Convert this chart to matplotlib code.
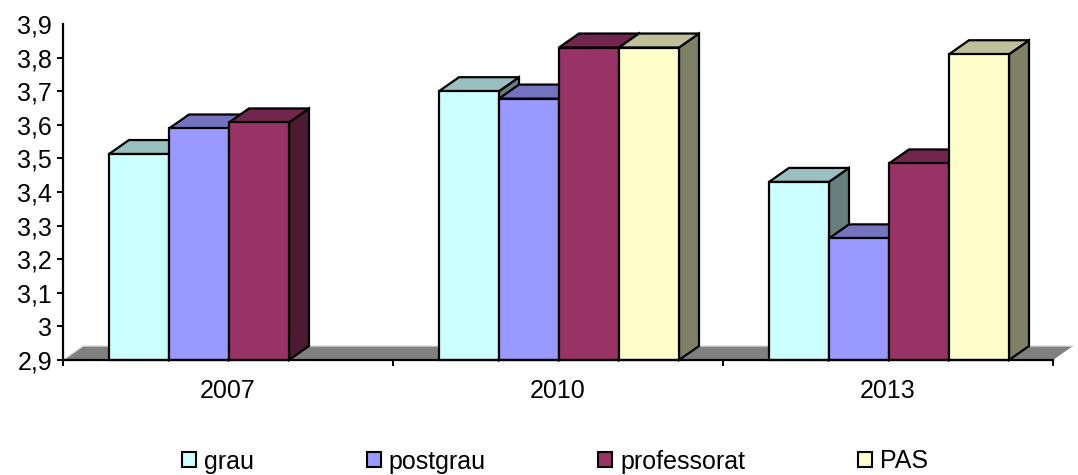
import matplotlib
matplotlib.use('Agg')
import matplotlib.pyplot as plt
from matplotlib.patches import Polygon, Patch

plt.rcParams['font.family'] = ['Liberation Sans', 'DejaVu Sans']
plt.rcParams['font.size'] = 18

years = ['2007', '2010', '2013']
series_names = ['grau', 'postgrau', 'professorat', 'PAS']
grau = [3.513, 3.70, 3.43]
postgrau = [3.589, 3.678, 3.262]
professorat = [3.607, 3.83, 3.485]
pas = [None, 3.83, 3.81]
y_ticks = [2.9, 3.0, 3.1, 3.2, 3.3, 3.4, 3.5, 3.6, 3.7, 3.8, 3.9]
y_labels = ['2,9', '3', '3,1', '3,2', '3,3', '3,4', '3,5', '3,6', '3,7', '3,8', '3,9']

front = ['#CCFFFF', '#9999FF', '#993366', '#FFFFCC']
top = ['#99BFBF', '#7373BF', '#73264D', '#BFBF99']
side = ['#668080', '#4C4C80', '#4C1A33', '#808066']

fig = plt.figure(figsize=(10.78, 4.75), dpi=100)
ax = fig.add_axes([63 / 1078, 1 - 360 / 475, 990 / 1078, 336 / 475])
ax.set_xlim(0, 3)
ax.set_ylim(2.9, 3.9)

bar_w = 60 / 330
dx = 20 / 330
dy = 14 / 336
shift = 1 / 330
lw = 1.6

# floor of the 3d box
ax.add_patch(Polygon([(0, 2.9), (dx, 2.9 + dy), (3 + dx, 2.9 + dy), (3, 2.9)],
                     facecolor='#808080', edgecolor='none', clip_on=False, zorder=1))
ax.plot([0, dx, 3 + dx], [2.9, 2.9 + dy, 2.9 + dy], color='#dddddd', lw=1, clip_on=False, zorder=1.5)

for i, values in enumerate([grau, postgrau, professorat, pas]):
    for j, v in enumerate(values):
        if v is None:
            continue
        x0 = j + 0.5 + (i - 2) * bar_w + shift
        x1 = x0 + bar_w
        # group order matters, the next bar has to cover this one
        z = 2 + j * 10 + i * 2
        ax.add_patch(Polygon([(x1, 2.9), (x1 + dx, 2.9 + dy), (x1 + dx, v + dy), (x1, v)],
                             facecolor=side[i], edgecolor='black', lw=lw, clip_on=False, zorder=z))
        ax.add_patch(Polygon([(x0, v), (x0 + dx, v + dy), (x1 + dx, v + dy), (x1, v)],
                             facecolor=top[i], edgecolor='black', lw=lw, clip_on=False, zorder=z))
        ax.bar(x0, v - 2.9, bar_w, bottom=2.9, align='edge', facecolor=front[i],
               edgecolor='black', lw=lw, clip_on=False, zorder=z + 1)

for s in ['top', 'right']:
    ax.spines[s].set_visible(False)
for s in ['left', 'bottom']:
    ax.spines[s].set_linewidth(1.6)
    ax.spines[s].set_zorder(100)

ax.set_yticks(y_ticks)
ax.set_yticklabels(y_labels)
ax.tick_params(axis='y', length=4.3, width=1.4, pad=3.5)
ax.yaxis.get_major_ticks()[-1].tick1line.set_visible(False)

ax.set_xticks([0, 1, 2, 3])
ax.set_xticklabels([])
ax.tick_params(axis='x', which='major', length=4.3, width=1.4)
ax.set_xticks([0.5, 1.5, 2.5], minor=True)
ax.set_xticklabels(years, minor=True)
ax.tick_params(axis='x', which='minor', length=0, pad=13.7)

handles = [Patch(facecolor=front[i], edgecolor='black', lw=1.5, label=series_names[i]) for i in range(4)]
fig.legend(handles=handles, ncol=4, loc='center', bbox_to_anchor=(555 / 1078, 1 - 461.5 / 475), frameon=False,
           handlelength=0.56, handleheight=0.56, handletextpad=0.32, columnspacing=4.5, borderpad=0, borderaxespad=0)

plt.savefig('out.png', dpi=100)
